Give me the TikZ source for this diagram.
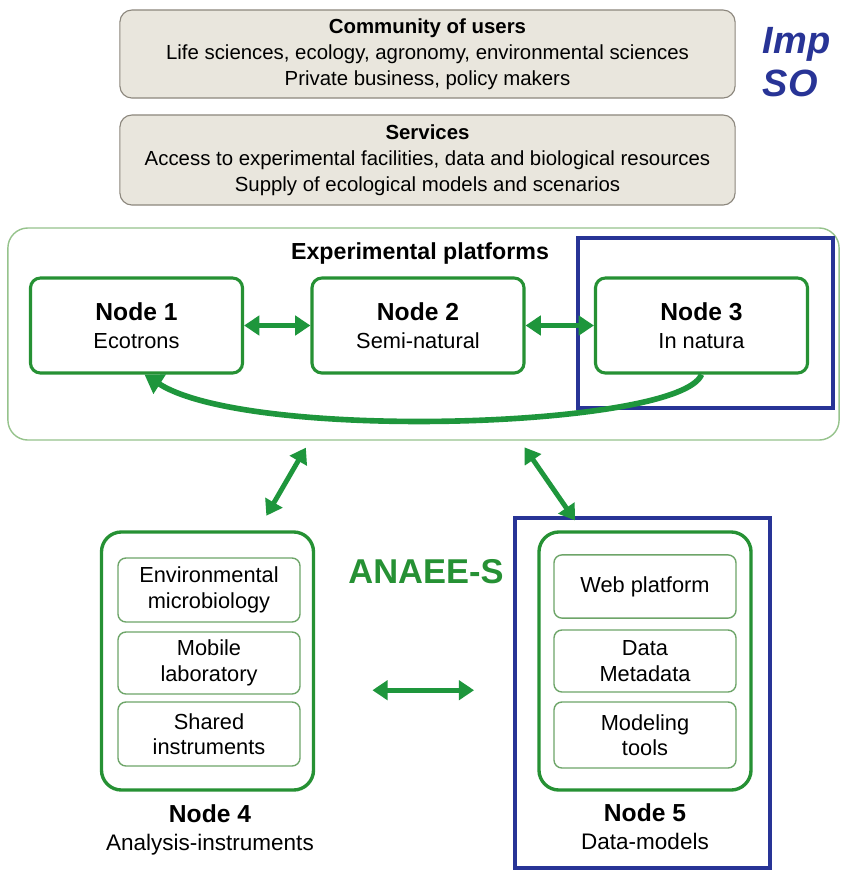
\documentclass[tikz,border=0pt]{standalone}
\usepackage{fontspec}
\setmainfont{Liberation Sans}
\usetikzlibrary{arrows.meta}
\definecolor{anaeeGreen}{RGB}{38,145,52}
\definecolor{arrowGreen}{RGB}{30,150,60}
\definecolor{paleGreen}{RGB}{150,195,140}
\definecolor{cellGreen}{RGB}{110,165,105}
\definecolor{boxBeige}{RGB}{233,230,221}
\definecolor{beigeLine}{RGB}{140,135,125}
\definecolor{markBlue}{RGB}{40,52,150}
\newcommand{\boxhead}[1]{{\bfseries\fontsize{17.5}{20}\selectfont #1}}

\begin{document}
\begin{tikzpicture}[x=0.025cm, y=-0.025cm,
    infobox/.style={rectangle, rounded corners=0.3cm, draw=beigeLine, fill=boxBeige, line width=0.8pt, minimum width=15.375cm, align=center, font=\fontsize{14.5}{18.5}\selectfont},
    platbox/.style={rectangle, rounded corners=0.25cm, draw=anaeeGreen, line width=2.2pt, fill=white, minimum width=5.3cm, minimum height=2.375cm, align=center, font=\fontsize{15.5}{20}\selectfont},
    groupbox/.style={rectangle, rounded corners=0.5cm, draw=anaeeGreen, line width=2.4pt, minimum width=5.3cm, minimum height=6.45cm},
    cellbox/.style={rectangle, rounded corners=0.2cm, draw=cellGreen, line width=1pt, minimum width=4.55cm, align=center, font=\fontsize{15.5}{18}\selectfont},
    hilite/.style={rectangle, draw=markBlue, line width=2.6pt, minimum width=6.375cm},
    biarrow/.style={draw=arrowGreen, line width=3.5pt, {Triangle[length=0.38cm,width=0.48cm]}-{Triangle[length=0.38cm,width=0.48cm]}},
    backarrow/.style={draw=arrowGreen, line width=4pt, -{Triangle[length=0.45cm,width=0.55cm]}}
]
    \fill[white] (0,0) rectangle (843,871);
    \useasboundingbox (0,0) rectangle (843,871);

    % Users and services
    \node[infobox, minimum height=2.2cm] (users) at (427.5,54) {\textbf{Community of users}\\Life sciences, ecology, agronomy, environmental sciences\\Private business, policy makers};
    \node[infobox, minimum height=2.25cm] (services) at (427.5,160) {\textbf{Services}\\Access to experimental facilities, data and biological resources\\Supply of ecological models and scenarios};
    \node[anchor=west, text=markBlue, font=\bfseries\itshape\fontsize{27}{30}\selectfont] (impact) at (758,44) {Imp};
    \node[anchor=west, text=markBlue, font=\bfseries\itshape\fontsize{27}{30}\selectfont] (so) at (758,83) {SO};

    % Experimental platforms
    \node[rectangle, rounded corners=0.5cm, draw=paleGreen, line width=1pt, minimum width=20.775cm, minimum height=5.3cm] (platforms) at (423.5,334) {};
    \node[font=\bfseries\fontsize{16.5}{20}\selectfont] (platlabel) at (420,253) {Experimental platforms};
    \node[platbox] (n1) at (136.5,325.5) {\boxhead{Node 1}\\Ecotrons};
    \node[platbox] (n2) at (418,325.5) {\boxhead{Node 2}\\Semi-natural};
    \node[platbox] (n3) at (701.5,325.5) {\boxhead{Node 3}\\In natura};
    \node[hilite, minimum height=4.25cm] (focus3) at (705.5,323) {};

    \draw[biarrow] (n1) -- (n2);
    \draw[biarrow] (n2) -- (n3);
    \draw[backarrow] (n3.south) .. controls (680,428) and (250,442) .. ([xshift=0.2cm]n1.south);

    % Node 4 and node 5
    \node[groupbox] (n4) at (207.5,661) {};
    \node[cellbox, minimum height=1.6cm] (micro) at (209,590) {Environmental\\microbiology};
    \node[cellbox, minimum height=1.55cm] (mobile) at (209,663) {Mobile\\laboratory};
    \node[cellbox, minimum height=1.6cm] (shared) at (209,734) {Shared\\instruments};
    \node[align=center, font=\fontsize{16}{20}\selectfont] (n4label) at (210,829.5) {\boxhead{Node 4}\\Analysis-instruments};

    \node[groupbox] (n5) at (645,661) {};
    \node[cellbox, minimum height=1.58cm] (web) at (645,586.5) {Web platform};
    \node[cellbox, minimum height=1.55cm] (data) at (645,661) {Data\\Metadata};
    \node[cellbox, minimum height=1.65cm] (tools) at (645,735) {Modeling\\tools};
    \node[align=center, font=\fontsize{16}{20}\selectfont] (n5label) at (645,826.5) {\boxhead{Node 5}\\Data-models};
    \node[hilite, minimum height=8.75cm] (focus5) at (642.5,693) {};

    \node[text=anaeeGreen, font=\bfseries\fontsize{24.5}{28}\selectfont] (anaee) at (426,572) {ANAEE-S};

    \draw[biarrow, shorten <=0.2cm, shorten >=0.42cm] ([xshift=-2.84cm]platforms.south) -- ([xshift=1.26cm]n4.north);
    \draw[biarrow, shorten <=0.2cm, shorten >=0.3cm] ([xshift=2.41cm]platforms.south) -- ([xshift=-1.58cm]n5.north);
    \draw[biarrow, shorten <=1.43cm, shorten >=1.58cm] ([yshift=-0.73cm]n4.east) -- ([yshift=-0.73cm]n5.west);
\end{tikzpicture}
\end{document}
